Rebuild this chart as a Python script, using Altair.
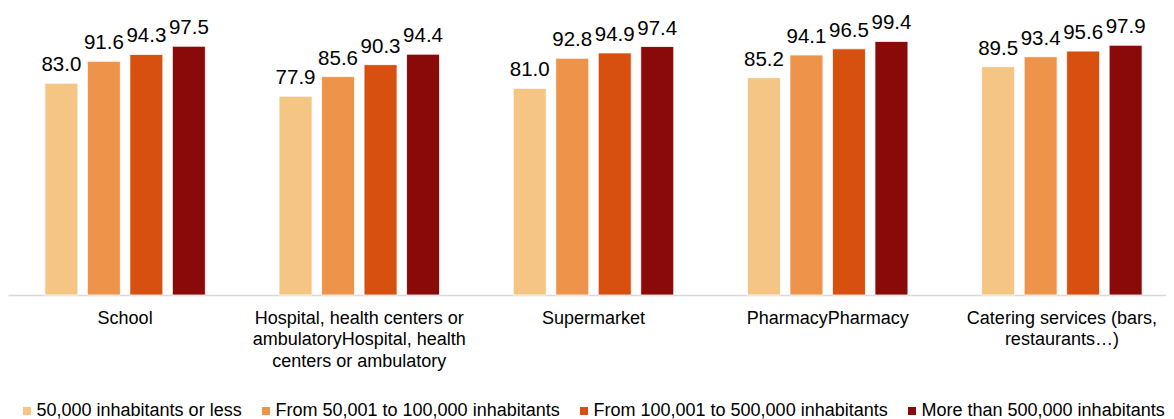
import altair as alt
import pandas as pd

categories = [
    "School",
    "Hospital, health centers or\nambulatoryHospital, health\ncenters or ambulatory",
    "Supermarket",
    "PharmacyPharmacy",
    "Catering services (bars,\nrestaurants…)",
]
series = [
    "50,000 inhabitants or less",
    "From 50,001 to 100,000 inhabitants",
    "From 100,001 to 500,000 inhabitants",
    "More than 500,000 inhabitants",
]
values_small = [83.0, 77.9, 81.0, 85.2, 89.5]
values_mid = [91.6, 85.6, 92.8, 94.1, 93.4]
values_large = [94.3, 90.3, 94.9, 96.5, 95.6]
values_xlarge = [97.5, 94.4, 97.4, 99.4, 97.9]
colors = ["#F5C584", "#EE934A", "#D8500F", "#8A0A0A"]

rows = []
for s, vals in zip(series, [values_small, values_mid, values_large, values_xlarge]):
    for c, v in zip(categories, vals):
        rows.append({"category": c, "series": s, "value": v})
df = pd.DataFrame(rows)

FONT = "Liberation Sans"
xscale = alt.Scale(range=[0, 1171], paddingInner=0.3147, paddingOuter=0.1574)

x = alt.X(
    "category:N",
    sort=categories,
    title=None,
    scale=xscale,
    axis=alt.Axis(
        labelAngle=0,
        ticks=False,
        domainColor="#d9d9d9",
        domainWidth=1.5,
        labelFontSize=18,
        labelFont=FONT,
        labelColor="#000000",
        labelPadding=14,
        labelLineHeight=21.7,
        labelLimit=400,
        labelExpr="split(datum.label, '\\n')",
    ),
)
xo = alt.XOffset(
    "series:N",
    sort=series,
    scale=alt.Scale(paddingInner=0.2235, paddingOuter=0),
)
y = alt.Y("value:Q", scale=alt.Scale(domain=[0, 112.5]), axis=None)

bars = alt.Chart(df).mark_bar(stroke="white", strokeWidth=0.8).encode(
    x=x,
    xOffset=xo,
    y=y,
    color=alt.Color(
        "series:N",
        sort=series,
        scale=alt.Scale(domain=series, range=colors),
        legend=alt.Legend(
            title=None,
            orient="none",
            legendX=10,
            legendY=394,
            direction="horizontal",
            symbolType="square",
            symbolSize=64,
            symbolStrokeWidth=0,
            labelFontSize=18,
            labelFont=FONT,
            labelColor="#000000",
            labelOffset=0.5,
            columnPadding=15,
            labelLimit=400,
            padding=0,
        ),
    ),
)

labels = alt.Chart(df).mark_text(
    baseline="alphabetic", dy=-12, fontSize=20.5, font=FONT, color="#000000"
).encode(
    x=alt.X("category:N", sort=categories, scale=xscale),
    xOffset=xo,
    y=y,
    text=alt.Text("value:Q", format=".1f"),
)

chart = (
    alt.layer(bars, labels)
    .properties(
        width=1158,
        height=287,
        autosize=alt.AutoSizeParams(type="none"),
        padding={"left": 0, "top": 0, "right": 0, "bottom": 124},
    )
    .configure_view(stroke=None)
)

chart.save("out.html", embed_options={"renderer": "svg", "actions": False})
